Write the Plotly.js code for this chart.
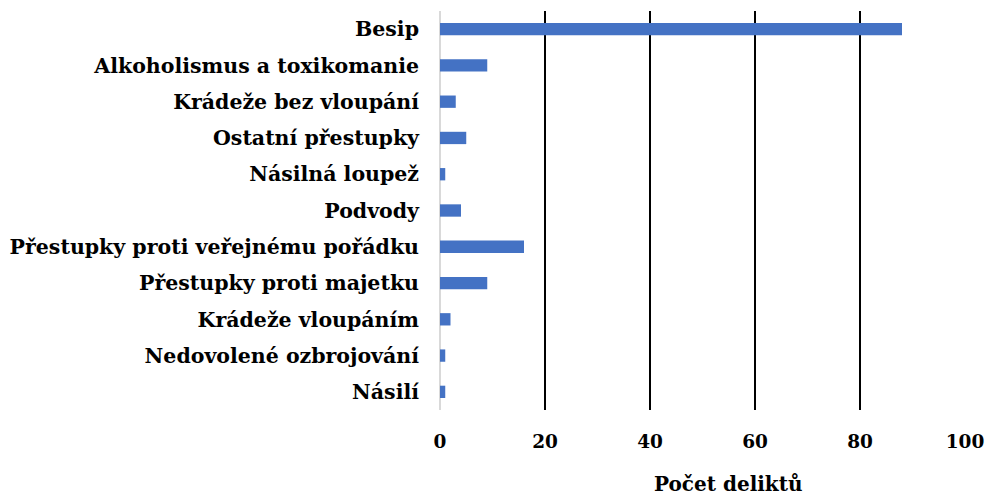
<!DOCTYPE html>
<html>
<head>
<meta charset="utf-8">
<script src="https://cdn.plot.ly/plotly-3.0.1.min.js"></script>
<style>html,body{margin:0;padding:0;background:#fff;}#chart{width:987px;height:495px;}</style>
</head>
<body>
<div id="chart"></div>
<script>
const categories = [
  "Besip",
  "Alkoholismus a toxikomanie",
  "Krádeže bez vloupání",
  "Ostatní přestupky",
  "Násilná loupež",
  "Podvody",
  "Přestupky proti veřejnému pořádku",
  "Přestupky proti majetku",
  "Krádeže vloupáním",
  "Nedovolené ozbrojování",
  "Násilí"
];
const values = [88, 9, 3, 5, 1, 4, 16, 9, 2, 1, 1];
const xTicks = [0, 20, 40, 60, 80, 100];
const xTitle = "Počet deliktů";

const fontFam = "DejaVu Serif, serif";

Plotly.newPlot("chart", [{
  type: "bar",
  orientation: "h",
  y: categories,
  x: values,
  marker: {color: "#4472C4"},
  hoverinfo: "x+y"
}], {
  width: 987,
  height: 495,
  margin: {l: 440, r: 22, t: 11, b: 85},
  paper_bgcolor: "#fff",
  plot_bgcolor: "#fff",
  bargap: 0.66,
  showlegend: false,
  font: {family: fontFam, size: 16, color: "#000", weight: "bold"},
  xaxis: {
    range: [0, 100],
    tickvals: xTicks,
    ticktext: xTicks.map(String),
    showgrid: true,
    gridcolor: "#000",
    gridwidth: 2,
    zeroline: true,
    zerolinecolor: "#d9d9d9",
    zerolinewidth: 2,
    showline: false,
    ticks: "",
    ticklabelstandoff: 18,
    tickfont: {family: fontFam, size: 18.5, color: "#000", weight: "bold"},
    fixedrange: true
  },
  yaxis: {
    type: "category",
    autorange: "reversed",
    showgrid: false,
    zeroline: false,
    showline: false,
    ticks: "",
    ticklabelstandoff: 20,
    tickfont: {family: fontFam, size: 20.5, color: "#000", weight: "bold"},
    fixedrange: true
  },
  annotations: [{
    text: xTitle,
    xref: "paper", yref: "paper",
    x: 0.549, y: -0.185,
    xanchor: "center", yanchor: "middle",
    showarrow: false,
    font: {family: fontFam, size: 20, color: "#000", weight: "bold"}
  }]
}, {displayModeBar: false, staticPlot: true});
</script>
</body>
</html>
